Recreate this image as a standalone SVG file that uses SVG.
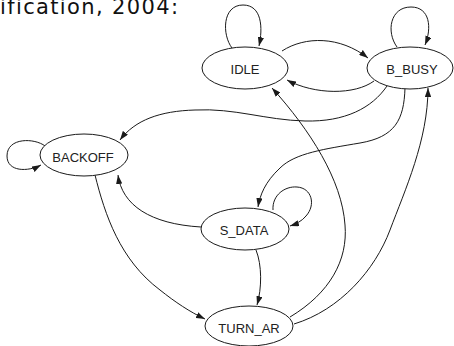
<svg xmlns="http://www.w3.org/2000/svg" width="454" height="346" viewBox="0 0 454 346">
  <style>
    .node ellipse { fill: #ffffff; stroke: #1a1a1a; stroke-width: 1; }
    .node text { font-family: "Liberation Sans", Arial, sans-serif; font-size: 13px; fill: #222222; text-anchor: middle; }
    .edge { fill: none; stroke: #1a1a1a; stroke-width: 1; marker-end: url(#arr); }
    .title { font-family: "DejaVu Sans", sans-serif; font-size: 21px; fill: #111111; font-variant-ligatures: none; }
  </style>
  <defs>
    <marker id="arr" markerUnits="userSpaceOnUse" viewBox="0 0 10 7" markerWidth="9" markerHeight="6.3" refX="10" refY="3.5" orient="auto">
      <path d="M0,0 L10,3.5 L0,7 z" fill="#1a1a1a"/>
    </marker>
  </defs>
  <rect width="454" height="346" fill="#ffffff"/>
  <text class="title" x="0" y="13.5" textLength="178" lengthAdjust="spacing">ification, 2004:</text>

  <g id="connectors">
    <path class="edge" d="M232,48 C222,35 222,5 243,5 C262,5 263,28 259,46"/>
    <path class="edge" d="M397,47 C386,32 390,7 411,7 C430,7 432,28 425,45"/>
    <path class="edge" d="M282,51 C305,36 340,36 368,58"/>
    <path class="edge" d="M374,81 C355,95 315,95 287,80"/>
    <path class="edge" d="M387,86 C372,108 345,122 305,121 C265,120 235,108 195,110 C160,111 135,120 120,140"/>
    <path class="edge" d="M405,88 C404,120 395,137 360,143 C325,149 295,153 280,168 C265,182 260,195 258,207"/>
    <path class="edge" d="M294,324 C340,310 375,270 390,230 C405,190 428,140 428,88"/>
    <path class="edge" d="M290,317 C330,293 348,260 345,225 C342,180 310,130 272,88"/>
    <path class="edge" d="M45,146 C35,138 7,137 7,156 C7,172 28,172 41,165"/>
    <path class="edge" d="M95,175 C105,215 120,260 160,290 C175,302 190,312 205,319"/>
    <path class="edge" d="M201,227 C150,224 122,205 118,175"/>
    <path class="edge" d="M273,210 C272,195 285,186 297,187 C312,188 316,205 306,216 C302,221 296,224 290,226"/>
    <path class="edge" d="M256,250 C262,265 262,288 257,305"/>
  </g>

  <g id="IDLE" class="node">
    <ellipse cx="245" cy="68" rx="43" ry="21"/>
    <text x="245" y="74">IDLE</text>
  </g>
  <g id="B_BUSY" class="node">
    <ellipse cx="410" cy="68" rx="43" ry="21"/>
    <text x="412" y="74">B_BUSY</text>
  </g>
  <g id="BACKOFF" class="node">
    <ellipse cx="84" cy="155" rx="44" ry="21"/>
    <text x="83" y="162">BACKOFF</text>
  </g>
  <g id="S_DATA" class="node">
    <ellipse cx="245" cy="229" rx="44" ry="21"/>
    <text x="244" y="235">S_DATA</text>
  </g>
  <g id="TURN_AR" class="node">
    <ellipse cx="249" cy="326" rx="44" ry="20"/>
    <text x="249" y="333">TURN_AR</text>
  </g>
</svg>
